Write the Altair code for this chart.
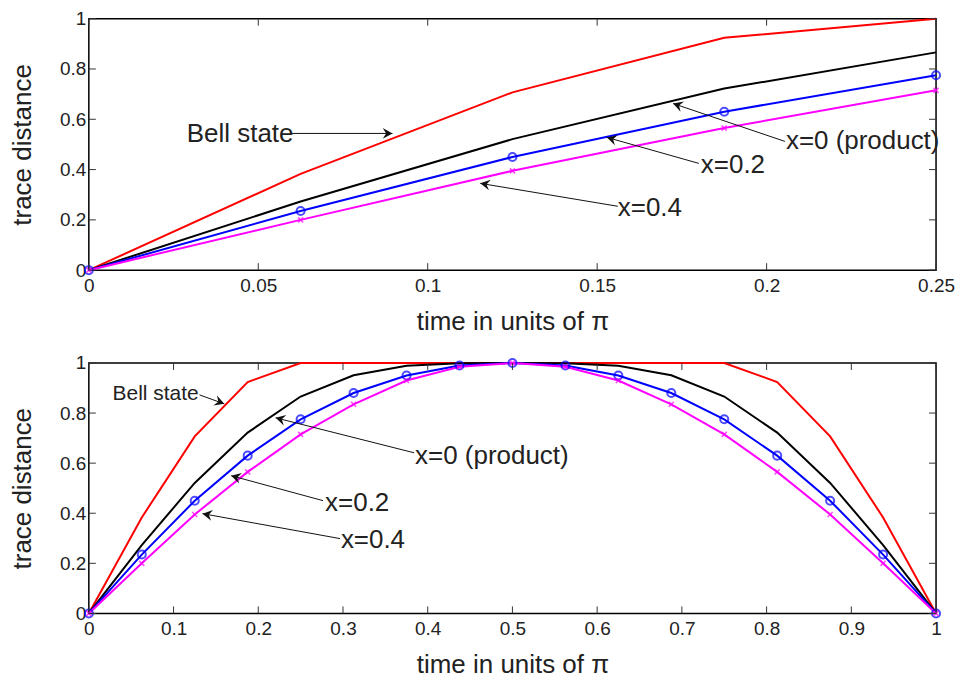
import math
import altair as alt
import pandas as pd

# ---------------- data ----------------
t_vals = [0, 0.0625, 0.125, 0.1875, 0.25, 0.3125, 0.375, 0.4375, 0.5,
          0.5625, 0.625, 0.6875, 0.75, 0.8125, 0.875, 0.9375, 1.0]
bell = [0, 0.383, 0.707, 0.924, 1, 1, 1, 1, 1, 1, 1, 1, 1, 0.924, 0.707, 0.383, 0]
product = [0, 0.273, 0.521, 0.722, 0.866, 0.951, 0.989, 0.999, 1,
           0.999, 0.989, 0.951, 0.866, 0.722, 0.521, 0.273, 0]
x02 = [0, 0.235, 0.45, 0.63, 0.775, 0.88, 0.95, 0.99, 1.0,
       0.99, 0.95, 0.88, 0.775, 0.63, 0.45, 0.235, 0]
x04 = [0, 0.20, 0.395, 0.565, 0.715, 0.835, 0.93, 0.985, 1.0,
       0.985, 0.93, 0.835, 0.715, 0.565, 0.395, 0.20, 0]

series_names = ["Bell state", "x=0 (product)", "x=0.2", "x=0.4"]
series_colors = ["#ff0000", "#000000", "#0000ff", "#ff00ff"]

y_ticks = [0, 0.2, 0.4, 0.6, 0.8, 1]
top_x_ticks = [0, 0.05, 0.1, 0.15, 0.2, 0.25]
bot_x_ticks = [0, 0.1, 0.2, 0.3, 0.4, 0.5, 0.6, 0.7, 0.8, 0.9, 1]

# annotations: label, text position, arrow tail, arrow tip (data coords)
top_ann_label = ["Bell state", "x=0 (product)", "x=0.2", "x=0.4"]
top_ann_tx = [0.0289, 0.2057, 0.1806, 0.1561]
top_ann_ty = [0.540, 0.512, 0.417, 0.246]
top_tail_x = [0.0598, 0.2054, 0.1800, 0.1561]
top_tail_y = [0.5437, 0.512, 0.4246, 0.254]
top_tip_x = [0.0896, 0.1724, 0.1529, 0.1155]
top_tip_y = [0.5437, 0.6627, 0.5278, 0.3452]
top_ann_size = [26, 26, 26, 26]

bot_ann_label = ["Bell state", "x=0 (product)", "x=0.2", "x=0.4"]
bot_ann_tx = [0.028, 0.3851, 0.2789, 0.2975]
bot_ann_ty = [0.8765, 0.6295, 0.4422, 0.2948]
bot_tail_x = [0.1307, 0.3839, 0.2765, 0.2964]
bot_tail_y = [0.8725, 0.6414, 0.4502, 0.2988]
bot_tip_x = [0.1599, 0.2205, 0.1680, 0.1342]
bot_tip_y = [0.8367, 0.7810, 0.5498, 0.3984]
bot_ann_size = [21, 26, 26, 26]

W = 849
FONT = "Liberation Sans"
TXT = "#222222"
TICK = 7


def panel(npts, xmax, xticks, H, ann):
    lbl, tx, ty, tlx, tly, tpx, tpy, fs = ann
    rows = []
    for name, vals in zip(series_names, [bell, product, x02, x04]):
        for i in range(npts):
            rows.append({"t": t_vals[i], "v": vals[i], "s": name})
    df = pd.DataFrame(rows)
    xs = alt.Scale(domain=[0, xmax], nice=False, zero=False)
    ys = alt.Scale(domain=[0, 1], nice=False, zero=False)
    xa = alt.Axis(
        values=xticks, format="~g", ticks=False, domain=False, grid=False,
        labelFont=FONT, labelFontSize=19, labelColor=TXT, labelPadding=6,
        labelFlush=False, labelOverlap=False,
        title="time in units of π", titleFont=FONT, titleFontSize=26,
        titleFontWeight="normal", titleColor=TXT, titlePadding=13)
    ya = alt.Axis(
        values=y_ticks, format="~g", ticks=False, domain=False, grid=False,
        labelFont=FONT, labelFontSize=19, labelColor=TXT, labelPadding=3,
        labelOverlap=False, labelFlush=False,
        title="trace distance", titleFont=FONT, titleFontSize=26,
        titleFontWeight="normal", titleColor=TXT, titlePadding=24)

    def X(f):
        return alt.X(f, scale=xs, axis=xa)

    def Y(f):
        return alt.Y(f, scale=ys, axis=ya)

    lines = alt.Chart(df).mark_line(strokeWidth=2, clip=False).encode(
        x=X("t:Q"), y=Y("v:Q"),
        color=alt.Color("s:N", scale=alt.Scale(domain=series_names, range=series_colors),
                        legend=None),
        order=alt.Order("t:Q"),
    )

    blue_pts = alt.Chart(df[df.s == "x=0.2"]).mark_point(
        shape="circle", size=65, filled=False, color="#0000ff", strokeWidth=2, clip=False
    ).encode(x=X("t:Q"), y=Y("v:Q"))

    mag_pts = alt.Chart(df[df.s == "x=0.4"]).mark_point(
        shape="M-1,-1L1,1M1,-1L-1,1", size=25, filled=False, color="#ff00ff",
        strokeWidth=1.6, clip=False
    ).encode(x=X("t:Q"), y=Y("v:Q"))

    # inward ticks on all four sides
    ydf = pd.DataFrame({"yt": y_ticks})
    xdf = pd.DataFrame({"xt": xticks})
    tick_props = dict(color="#333333", strokeWidth=1)
    tl = alt.Chart(ydf).mark_rule(**tick_props).encode(
        y=Y("yt:Q"), x=alt.value(0), x2=alt.value(TICK))
    tr = alt.Chart(ydf).mark_rule(**tick_props).encode(
        y=Y("yt:Q"), x=alt.value(W - TICK), x2=alt.value(W))
    tb = alt.Chart(xdf).mark_rule(**tick_props).encode(
        x=X("xt:Q"), y=alt.value(H - TICK), y2=alt.value(H))
    tt = alt.Chart(xdf).mark_rule(**tick_props).encode(
        x=X("xt:Q"), y=alt.value(0), y2=alt.value(TICK))

    # annotations
    angs = []
    for a, b, c, d in zip(tlx, tly, tpx, tpy):
        dx = (c - a) * W / xmax
        dy = -(d - b) * H
        angs.append(math.degrees(math.atan2(dy, dx)) % 360)
    adf = pd.DataFrame({"label": lbl, "tx": tx, "ty": ty, "ax": tlx, "ay": tly,
                        "bx": tpx, "by": tpy, "fs": fs, "ang": angs})
    texts = alt.Chart(adf).mark_text(align="left", baseline="middle", font=FONT,
                                     color=TXT).encode(
        x=X("tx:Q"), y=Y("ty:Q"),
        text="label:N", size=alt.Size("fs:Q", scale=None))
    arrows = alt.Chart(adf).mark_rule(color="#111111", strokeWidth=1).encode(
        x=X("ax:Q"), y=Y("ay:Q"), x2="bx:Q", y2="by:Q")
    heads = alt.Chart(adf).mark_point(
        shape="M0,0L-1,-0.55L-0.65,0L-1,0.55Z", size=380, filled=True,
        color="#111111", opacity=1
    ).encode(x=X("bx:Q"), y=Y("by:Q"), angle=alt.Angle("ang:Q", scale=None))

    return alt.layer(lines, blue_pts, mag_pts, tl, tr, tb, tt, arrows, heads, texts
                     ).properties(width=W, height=H)


top = panel(5, 0.25, top_x_ticks, 252,
            (top_ann_label, top_ann_tx, top_ann_ty, top_tail_x, top_tail_y,
             top_tip_x, top_tip_y, top_ann_size))
bot = panel(17, 1.0, bot_x_ticks, 251,
            (bot_ann_label, bot_ann_tx, bot_ann_ty, bot_tail_x, bot_tail_y,
             bot_tip_x, bot_tip_y, bot_ann_size))

chart = alt.vconcat(top, bot, spacing=18).resolve_scale(
    x="independent", y="independent"
).properties(
    padding=0,
    background="white",
).configure_view(stroke="black", strokeWidth=1.5)

chart.save("out.html", embed_options={"renderer": "svg", "actions": False})
